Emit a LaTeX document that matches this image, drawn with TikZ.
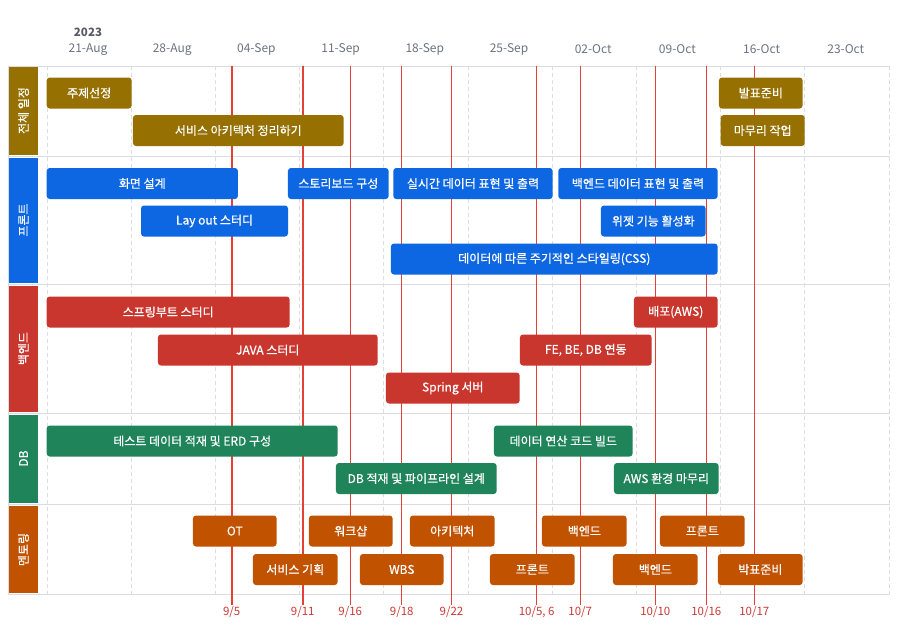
\documentclass[tikz,border=0pt]{standalone}
\usepackage{fontspec}
\setmainfont{Noto Sans CJK KR}
\newfontfamily\barfont{Noto Sans CJK KR}[FakeBold=0.6]
\definecolor{plan}{RGB}{150,112,0}
\definecolor{front}{RGB}{14,103,226}
\definecolor{back}{RGB}{201,54,46}
\definecolor{dbcol}{RGB}{32,132,90}
\definecolor{mentor}{RGB}{193,82,0}
\definecolor{gridcol}{RGB}{218,221,228}
\definecolor{daycol}{RGB}{228,64,54}
\definecolor{daytext}{RGB}{200,58,52}
\definecolor{headtext}{RGB}{107,114,128}
\begin{document}
\begin{tikzpicture}[x=1pt, y=-1pt,
  bar/.style={rectangle, rounded corners=3pt, minimum height=31pt, inner sep=0pt, text=white, font=\barfont\fontsize{12}{14}\selectfont},
  catbox/.style={rectangle, rotate=90, minimum height=29pt, inner sep=0pt, text=white, font=\barfont\fontsize{12}{14}\selectfont},
  datelbl/.style={text=headtext, font=\fontsize{12}{14}\selectfont},
  daylabel/.style={text=daytext, inner sep=1pt, font=\fontsize{11.5}{13}\selectfont},
  dayline/.style={draw=daycol}
]
\useasboundingbox (0,0) rectangle (906,633);

% Header
\node[text=headtext!80!black, font=\fontsize{11.5}{13}\selectfont\bfseries] (year) at (88,32) {2023};
\foreach \t [count=\k from 0] in {21-Aug,28-Aug,04-Sep,11-Sep,18-Sep,25-Sep,02-Oct,09-Oct,16-Oct,23-Oct}
  \node[datelbl] (w\k) at (88+84.2*\k,49.5) {\t};

% Grid
\foreach \k in {0,...,10}
  \draw[gridcol, dash pattern=on 4pt off 3pt] (46.7+84.2*\k,66) -- (46.7+84.2*\k,594);
\foreach \y in {66,156,284,413,504,594}
  \draw[gridcol] (8,\y) -- (890,\y);
\draw[gridcol] (8,66) -- (8,594);

% Day markers
\foreach \x/\d/\w [count=\i] in {231.7/{9/5}/1.8, 302.7/{9/11}/1.8, 350.3/{9/16}/1, 401.7/{9/18}/1, 451.5/{9/22}/1, 536.7/{10/5, 6}/1, 580.3/{10/7}/1, 655.3/{10/10}/1, 706.3/{10/16}/1, 754.3/{10/17}/1} {
  \coordinate (t\i) at (\x,66);
  \node[daylabel, anchor=north] (d\i) at (\x,605) {\d};
  \draw[dayline, line width=\w pt] (t\i) -- (d\i.north);
}

% Categories
\node[catbox, fill=plan, minimum width=88pt] (cplan) at (23.5,110.5) {전체 일정};
\node[catbox, fill=front, minimum width=125pt] (cfront) at (23.5,220) {프론트};
\node[catbox, fill=back, minimum width=126pt] (cback) at (23.5,348.5) {백엔드};
\node[catbox, fill=dbcol, minimum width=88pt] (cdb) at (23.5,458.5) {DB};
\node[catbox, fill=mentor, minimum width=87.5pt] (cmentor) at (23.5,549.5) {멘토링};

% Overall plan
\node[bar, fill=plan, minimum width=85pt] (topic) at (89.2,93) {주제선정};
\node[bar, fill=plan, minimum width=210.7pt] (arch) at (238.3,130.5) {서비스 아키텍처 정리하기};
\node[bar, fill=plan, minimum width=83.7pt] (present) at (760.8,93) {발표준비};
\node[bar, fill=plan, minimum width=84pt] (finish) at (762.7,130.5) {마무리 작업};

% Front
\node[bar, fill=front, minimum width=191.3pt] (screen) at (142.3,183.5) {화면 설계};
\node[bar, fill=front, minimum width=100.7pt] (story) at (338.3,183.5) {스토리보드 구성};
\node[bar, fill=front, minimum width=159.4pt] (realtime) at (473,183.5) {실시간 데이터 표현 및 출력};
\node[bar, fill=front, minimum width=159.4pt] (backdata) at (638,183.5) {백엔드 데이터 표현 및 출력};
\node[bar, fill=front, minimum width=147pt] (layout) at (214.5,221) {Lay out 스터디};
\node[bar, fill=front, minimum width=104.7pt] (widget) at (653.3,221) {위젯 기능 활성화};
\node[bar, fill=front, minimum width=326.7pt] (styling) at (554.3,259) {데이터에 따른 주기적인 스타일링(CSS)};

% Back
\node[bar, fill=back, minimum width=243pt] (boot) at (168.2,312) {스프링부트 스터디};
\node[bar, fill=back, minimum width=83.7pt] (deploy) at (675.8,312) {배포(AWS)};
\node[bar, fill=back, minimum width=219.7pt] (java) at (267.8,350) {JAVA 스터디};
\node[bar, fill=back, minimum width=131.7pt] (link) at (585.8,350) {FE, BE, DB 연동};
\node[bar, fill=back, minimum width=133.7pt] (server) at (452.8,388) {Spring 서버};

% DB
\node[bar, fill=dbcol, minimum width=291pt] (testdata) at (192.2,441) {테스트 데이터 적재 및 ERD 구성};
\node[bar, fill=dbcol, minimum width=138.7pt] (calc) at (563.3,441) {데이터 연산 코드 빌드};
\node[bar, fill=dbcol, minimum width=160.7pt] (pipe) at (416.3,478.5) {DB 적재 및 파이프라인 설계};
\node[bar, fill=dbcol, minimum width=104.7pt] (awsenv) at (666.3,478.5) {AWS 환경 마무리};

% Mentoring
\node[bar, fill=mentor, minimum width=83.7pt] (ot) at (234.8,531) {OT};
\node[bar, fill=mentor, minimum width=83.7pt] (workshop) at (350.8,531) {워크샵};
\node[bar, fill=mentor, minimum width=84.7pt] (archm) at (452.3,531) {아키텍처};
\node[bar, fill=mentor, minimum width=84.7pt] (backm) at (584.3,531) {백엔드};
\node[bar, fill=mentor, minimum width=84.7pt] (frontm) at (702.3,531) {프론트};
\node[bar, fill=mentor, minimum width=84.7pt] (plann) at (295.3,569.5) {서비스 기획};
\node[bar, fill=mentor, minimum width=83.7pt] (wbs) at (401.8,569.5) {WBS};
\node[bar, fill=mentor, minimum width=84.7pt] (fronts) at (532.3,569.5) {프론트};
\node[bar, fill=mentor, minimum width=84.7pt] (backs) at (655.3,569.5) {백엔드};
\node[bar, fill=mentor, minimum width=84.7pt] (prep) at (760.3,569.5) {박표준비};
\end{tikzpicture}
\end{document}
